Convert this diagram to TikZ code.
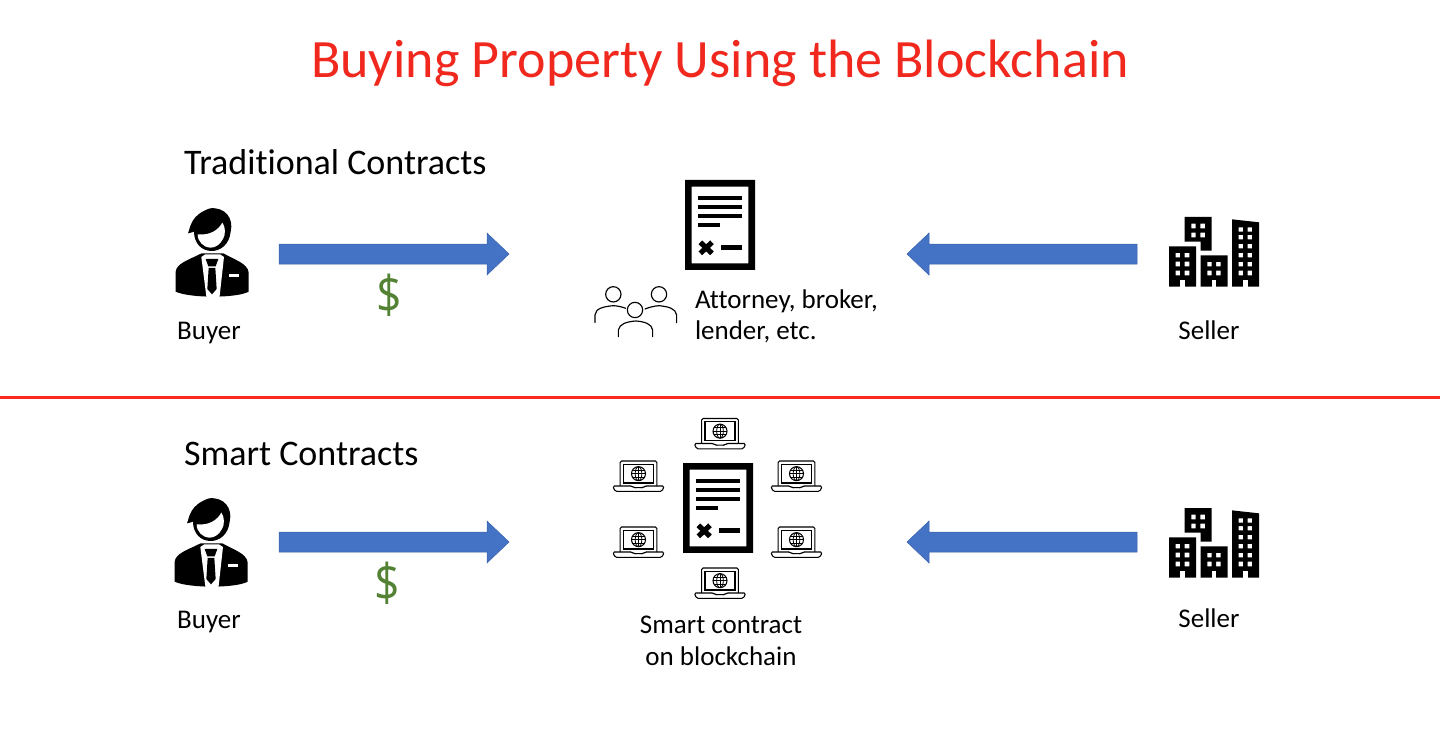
\documentclass[tikz,border=0pt]{standalone}
\usepackage{fontspec}
\setmainfont[Ligatures=NoCommon]{Carlito}
\newfontfamily\thinfont{Open Sans}
\definecolor{arrowblue}{HTML}{4472C4}
\definecolor{arrowedge}{HTML}{3A62AB}
\definecolor{titlered}{HTML}{F0281E}
\definecolor{linered}{HTML}{FF2A1F}
\definecolor{dollargreen}{HTML}{548235}
\tikzset{
  every node/.style={inner sep=0pt,outer sep=0pt,text=black},
  label14/.style={font=\fontsize{27}{31.5}\selectfont,align=center,anchor=base},
  heading/.style={font=\fontsize{36}{40}\selectfont,anchor=base west},
  dollar/.style={font=\thinfont\fontsize{52}{56}\selectfont,text=dollargreen,transform shape,xscale=0.86},
  blockarrow/.style={fill=arrowblue,draw=arrowedge,line width=0.5pt},
  zoomed/.style={x=0.3333pt,y=-0.3333pt},
  pics/person/.style={code={
    \begin{scope}[zoomed]
      % body
      \fill (47,230) .. controls (50,205) and (85,195) .. (125,175) -- (190,175)
        .. controls (225,195) and (262,205) .. (266,232) -- (266,290)
        .. controls (230,310) and (90,310) .. (47,290) -- cycle;
      % shirt
      \fill[white] (124,186) -- (140,312) -- (178,312) -- (192,186) -- (180,178) -- (136,178) -- cycle;
      % tie
      \fill (137,192) -- (175,192) -- (167,214) -- (145,214) -- cycle;
      \fill (146,219) -- (166,219) -- (170,282) -- (156,298) -- (142,282) -- cycle;
      % badge
      \fill[white] (208,238) rectangle (238,245);
      % head and hair
      \fill (84,115) .. controls (92,95) and (92,60) .. (150,40)
        .. controls (195,35) and (222,70) .. (212,110)
        .. controls (208,150) and (180,168) .. (155,168)
        .. controls (125,168) and (102,145) .. (102,110)
        .. controls (96,112) and (90,114) .. (84,115) -- cycle;
      % face
      \fill[white] (113,118) .. controls (150,122) and (175,105) .. (187,83)
        .. controls (197,95) and (197,120) .. (189,132)
        .. controls (180,150) and (165,158) .. (152,158)
        .. controls (130,157) and (113,140) .. (113,118) -- cycle;
    \end{scope}}},
  pics/document/.style={code={
    \begin{scope}[zoomed]
      \fill[even odd rule] (0,0) rectangle (210,270) (20,20) rectangle (190,250);
      \fill (40,47) rectangle (170,61);
      \fill (40,74) rectangle (170,88);
      \fill (40,101) rectangle (170,115);
      \fill (40,128) rectangle (105,142);
      \fill (108,196) rectangle (170,210);
      \draw[line width=5.2pt] (46,187) -- (81,220) (81,187) -- (46,220);
    \end{scope}}},
  pics/towers/.style={code={
    \begin{scope}[zoomed]
      \fill[even odd rule] (27,124) rectangle (108,245)
        (47,144) rectangle (60,157) (74,144) rectangle (88,157)
        (47,170) rectangle (60,184) (74,170) rectangle (88,184)
        (47,197) rectangle (60,211) (74,197) rectangle (88,211);
      \fill[white] (60,226) rectangle (74,245);
      \fill[even odd rule] (74,36) -- (155,36) -- (155,137) -- (122,137) -- (122,110) -- (74,110) -- cycle
        (94,56) rectangle (107,70) (121,56) rectangle (135,70)
        (94,83) rectangle (107,97) (121,83) rectangle (135,97);
      \fill[even odd rule] (122,151) rectangle (203,245)
        (142,171) rectangle (155,184) (168,171) rectangle (182,184)
        (142,197) rectangle (155,211) (168,197) rectangle (182,211);
      \fill[white] (155,226) rectangle (169,245);
      \fill[even odd rule] (216,43) -- (297,52) -- (297,245) -- (216,245) -- cycle
        (236,67) rectangle (249,80) (263,67) rectangle (276,80)
        (236,90) rectangle (249,103) (263,90) rectangle (276,103)
        (236,117) rectangle (249,130) (263,117) rectangle (276,130)
        (236,144) rectangle (249,157) (263,144) rectangle (276,157)
        (236,171) rectangle (249,184) (263,171) rectangle (276,184)
        (236,197) rectangle (249,211) (263,197) rectangle (276,211);
      \fill[white] (249,226) rectangle (263,245);
    \end{scope}}},
  pics/laptop/.style={code={
    \begin{scope}[zoomed,line width=1.05pt]
      \draw[rounded corners=1.5pt] (-55,75) -- (-55,0) -- (55,0) -- (55,75);
      \draw (-45,10) rectangle (45,66);
      \draw[rounded corners=1.5pt] (-77,75) -- (-20,75) -- (-14,80) -- (14,80) -- (20,75) -- (77,75) -- (74,83) -- (70,91) -- (-70,91) -- (-74,83) -- cycle;
      \draw (0,38) circle[radius=21];
      \draw[line width=0.8pt] (0,17) -- (0,59) (-21,38) -- (21,38) (-19,28) -- (19,28) (-19,48) -- (19,48);
      \draw[line width=0.8pt] (0,38) ellipse[x radius=10,y radius=21];
    \end{scope}}},
  pics/people/.style={code={
    \begin{scope}[zoomed,line width=1.15pt]
      \draw (85,358) circle[radius=23];
      \draw (222,358) circle[radius=23];
      \draw (150,405) circle[radius=23];
      \draw[line cap=round] (30,443) -- (30,420) .. controls (32,400) and (55,395) .. (85,392) .. controls (100,393) and (112,396) .. (122,400);
      \draw[line cap=round] (275,443) -- (275,420) .. controls (272,400) and (250,395) .. (222,392) .. controls (208,393) and (192,397) .. (180,402);
      \draw[line cap=round] (100,485) -- (100,465) .. controls (103,447) and (125,440) .. (152,438) .. controls (180,440) and (200,447) .. (203,465) -- (203,485);
    \end{scope}}}
}
\begin{document}
\begin{tikzpicture}[x=1pt,y=-1pt]
\useasboundingbox (0,0) rectangle (1440,730);
\fill[white] (0,0) rectangle (1440,730);
\node[font=\fontsize{54}{60}\selectfont,text=titlered,anchor=base] (title) at (720,78) {Buying Property Using the Blockchain};
\node[heading] (trad) at (184,175) {Traditional Contracts};
\node[heading] (smart) at (184,465) {Smart Contracts};
\coordinate (ruleL) at (0,397.5);
\coordinate (ruleR) at (1440,397.5);
\draw[linered,line width=2.2pt] (ruleL) -- (ruleR);

% upper row
\pic at (160,195) {person};
\node[label14] (buyerA) at (209,339) {Buyer};
\path[blockarrow] (279,244) -- (487,244) -- (487,233) -- (509,254) -- (487,275) -- (487,264) -- (279,264) -- cycle;
\node[dollar] (dollarA) at (389,295) {\$};
\pic at (685,180) {document};
\pic at (585,175) {people};
\node[label14,align=left,anchor=west] (agents) at (695,316.5) {Attorney, broker,\\lender, etc.};
\path[blockarrow] (1137,244) -- (929,244) -- (929,233) -- (907,254) -- (929,275) -- (929,264) -- (1137,264) -- cycle;
\pic at (1160,205) {towers};
\node[label14] (sellerA) at (1209,339) {Seller};

% lower row
\pic at (159,485) {person};
\node[label14] (buyerB) at (209,628) {Buyer};
\path[blockarrow] (279,532) -- (487,532) -- (487,521) -- (509,542) -- (487,563) -- (487,552) -- (279,552) -- cycle;
\node[dollar] (dollarB) at (387,583) {\$};
\pic at (683,463) {document};
\pic at (720,418.5) {laptop};
\pic at (638.5,461) {laptop};
\pic at (796.5,461) {laptop};
\pic at (638.5,527) {laptop};
\pic at (796.5,527) {laptop};
\pic at (720,568) {laptop};
\node[label14,anchor=center] (chain) at (721,641) {Smart contract\\on blockchain};
\path[blockarrow] (1137,532) -- (929,532) -- (929,521) -- (907,542) -- (929,563) -- (929,552) -- (1137,552) -- cycle;
\pic at (1160,496) {towers};
\node[label14] (sellerB) at (1209,627) {Seller};
\end{tikzpicture}
\end{document}
